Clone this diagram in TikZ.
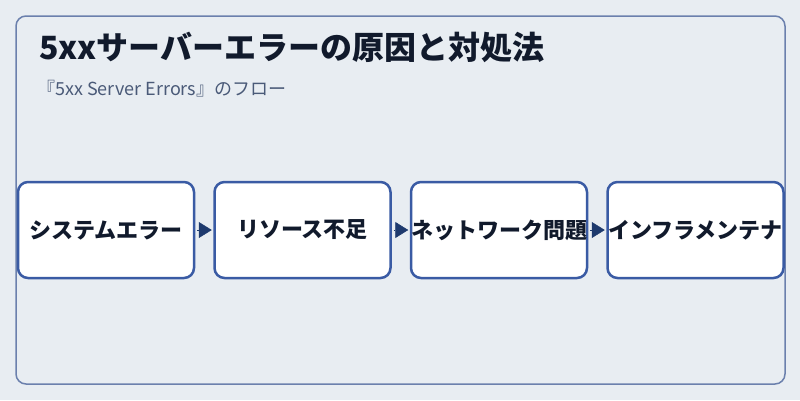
\documentclass[tikz,border=0pt]{standalone}
\usepackage{fontspec}
\setmainfont{Noto Sans CJK JP}
\usepackage{tikz}
\usetikzlibrary{positioning,arrows.meta}
\definecolor{pagebg}{HTML}{E8EDF2}
\definecolor{framecol}{HTML}{6B80AD}
\definecolor{boxcol}{HTML}{3A5BA4}
\definecolor{arrowcol}{HTML}{1E3A6E}
\definecolor{titlecol}{HTML}{111A2C}
\definecolor{subcol}{HTML}{4A5A78}

\begin{document}
\begin{tikzpicture}[
	x=1pt, y=-1pt,
	frame/.style={draw=framecol, line width=1.5pt, rounded corners=10pt},
	stepbox/.style={draw=boxcol, line width=2.5pt, fill=white, rounded corners=10pt,
		minimum width=176pt, minimum height=96pt, inner sep=0pt,
		font=\bfseries\fontsize{22}{26}\selectfont, text=titlecol},
	flow/.style={draw=arrowcol, fill=arrowcol, line width=0.5pt,
		-{Triangle[length=13pt,width=16pt]}, shorten <=2pt, shorten >=1.5pt},
	node distance=18pt
	]
	% background
	\fill[pagebg] (0,0) rectangle (800,400);
	\useasboundingbox (0,0) rectangle (800,400);
	\draw[frame] (16,16) rectangle (785,384);
	% title
	\node[anchor=west, inner sep=0pt, text=titlecol, font=\bfseries\fontsize{32}{36}\selectfont]
		(title) at (39,47) {5xxサーバーエラーの原因と対処法};
	\node[anchor=west, inner sep=0pt, text=subcol, font=\fontsize{18}{22}\selectfont]
		(subtitle) at (37,89) {『5xx Server Errors』のフロー};
	% boxes
	\node[stepbox] (syserr) at (106,230) {システムエラー};
	\node[stepbox, right=of syserr] (resource) {リソース不足};
	\node[stepbox, right=of resource] (network) {ネットワーク問題};
	\node[stepbox, right=of network] (infra) {インフラメンテナ};
	% arrows
	\draw[flow] (syserr) -- (resource);
	\draw[flow] (resource) -- (network);
	\draw[flow] (network) -- (infra);
\end{tikzpicture}
\end{document}
